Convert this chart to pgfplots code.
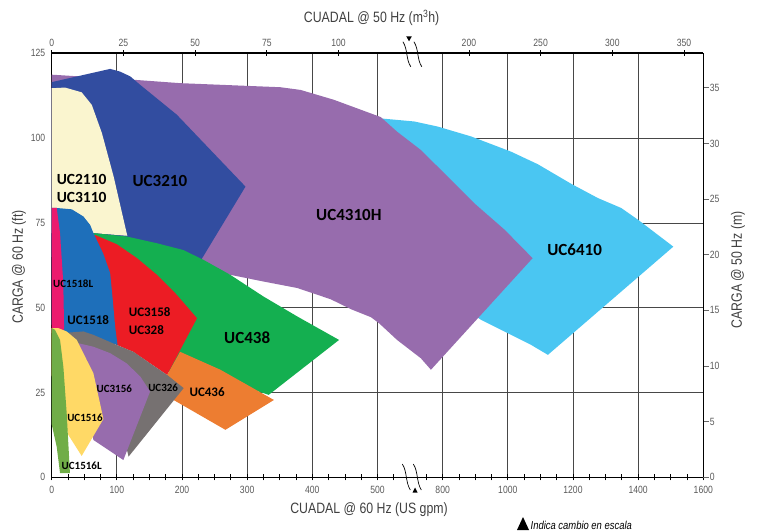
\documentclass[border=0pt]{standalone}
\usepackage{fontspec}
\setmainfont{Liberation Sans}
\newfontfamily\narrow[FakeStretch=0.82]{Liberation Sans}
\newfontfamily\lbl{Carlito}
\usepackage{pgfplots}
\pgfplotsset{compat=1.18}

\definecolor{cUCsixfour}{HTML}{4AC6F2}   % UC6410
\definecolor{cUCfourthree}{HTML}{976CAD} % UC4310H, UC3156
\definecolor{cUCthreetwo}{HTML}{324DA0}  % UC3210
\definecolor{cUCtwoone}{HTML}{FAF5CF}    % UC2110/UC3110
\definecolor{cUCfourthreeeight}{HTML}{14AF50} % UC438
\definecolor{cUCfoursix}{HTML}{ED7D31}   % UC436
\definecolor{cUCred}{HTML}{EC1C24}       % UC3158/UC328
\definecolor{cUCblue}{HTML}{1E6FBA}      % UC1518
\definecolor{cUCmag}{HTML}{EB1A6E}       % UC1518L
\definecolor{cUCgray}{HTML}{767171}      % UC326
\definecolor{cUCyel}{HTML}{FFD966}       % UC1516
\definecolor{cUClgreen}{HTML}{70AD47}    % UC1516L

% two linear gpm scales: 0-550 at 100 gpm/unit, 700-1600 at 200 gpm/unit
\pgfplotsset{
  gpmbreak/.style={
    x coord trafo/.code={\pgfmathparse{ifthenelse(##1<=600,##1/100,2+##1/200)}},
  },
  frame/.style={
    scale only axis, width=651.6pt, height=424pt,
    at={(0pt,0pt)}, anchor=south west,
    xmin=0, xmax=1600, gpmbreak,
    axis line style={-},
    /pgf/number format/assume math mode=true,
    ticklabel style={font=\narrow\fontsize{10.5}{12}\selectfont, text=black!65},
  },
}
\tikzset{lab/.style={font=\lbl\bfseries\fontsize{#1}{#1}\selectfont, inner sep=0pt}}

\begin{document}
\begin{tikzpicture}
\begin{axis}[frame,
  ymin=0, ymax=125,
  axis x line*=bottom, axis y line*=left,
  xtick={0,100,200,300,400,500,800,1000,1200,1400,1600},
  xticklabels={0,100,200,300,400,500,800,1000,1200,1400,1600},
  minor xtick={25,50,75,125,150,175,225,250,275,325,350,375,425,450,475,525,750,850,900,950,1050,1100,1150,1250,1300,1350,1450,1500,1550},
  ytick={0,25,50,75,100,125},
  xmajorgrids, ymajorgrids,
  grid style={black!72, line width=0.8pt},
  tick align=center,
  major tick length=6pt, minor tick length=6pt,
  xtick style={black, line width=0.8pt},
  ytick style={draw=none},
  xticklabel style={yshift=-2pt},
  x axis line style={line width=1.6pt},
  y axis line style={line width=1pt},
  xlabel={CUADAL @ 60 Hz (US gpm)},
  ylabel={CARGA @ 60 Hz (ft)},
  xlabel style={at={(rel axis cs:0.487,0)}, anchor=center, yshift=-32.7pt,
    font=\narrow\fontsize{15}{18}\selectfont, text=black!75},
  ylabel style={at={(rel axis cs:0,0.496)}, anchor=center, yshift=32.7pt,
    font=\narrow\fontsize{15}{18}\selectfont, text=black!75},
]
% UC6410
\addplot[fill=cUCsixfour, draw=none] coordinates {
(505,105.8) (713,104.9) (785,103.4) (887,100.5) (1010,96) (1092,92.3) (1195,86.5)
(1277,82.3) (1348,79.4) (1400,75.9) (1508,68) (1123,36.1) (1072,39) (979,43.5)
(918,46.4) (787,55) (533,80)} -- cycle;
% UC4310H
\addplot[fill=cUCfourthree, draw=none] coordinates {
(0,118.7) (125.6,117.2) (197,116.2) (351,115) (382,114.2) (433,111.3) (505,106.2)
(530,101.9) (733,96.5) (795,90.6) (897,80.8) (990,73) (1076,64.6) (764,31.7)
(733,35.1) (530,40.5) (502.5,45.4) (490,47.2) (460,49.5) (428,52.5) (377,55.8)
(325.5,57.7) (274,59.7) (230,62) (100,65) (0,65)} -- cycle;
% UC3210
\addplot[fill=cUCthreetwo, draw=none] coordinates {
(0,116.5) (89.7,120.4) (105,119.6) (120.5,118.2) (135.8,115.7) (192,106.9)
(297.4,85.7) (230,64.3) (150,67) (60,70) (0,70)} -- cycle;
% UC2110 / UC3110
\addplot[fill=cUCtwoone, draw=none] coordinates {
(0,114.7) (20.5,114.9) (46,113.5) (61.5,109.8) (77,101.5) (95,88.7) (116,71.2)
(64,72) (0,72)} -- cycle;
% UC438
\addplot[fill=cUCfourthreeeight, draw=none] coordinates {
(64,72) (115,71) (161.5,69) (202,67) (233,64.1) (274,59.7) (325,53.3) (377,47.4)
(441,40.5) (333,24.3) (259,29) (200,33) (178,31) (120,40) (60,50)} -- cycle;
% UC436
\addplot[fill=cUCfoursix, draw=none] coordinates {
(177,30.2) (197,37) (259,31.7) (341,22.8) (266.6,14) (187,22.8)} -- cycle;
% UC3158 / UC328
\addplot[fill=cUCred, draw=none] coordinates {
(66,71.5) (100,68.7) (131,64.6) (161.5,59.7) (192,53.8) (223,46.9) (177,30.2)
(151,33.6) (125,37) (100,39) (80,50) (64,70)} -- cycle;
% UC1518
\addplot[fill=cUCblue, draw=none] coordinates {
(0,79.4) (7.7,79.4) (30.8,79) (48.6,76.9) (59,74.4) (64,72) (79,66) (89.7,60.2)
(93.7,52.3) (97.4,44.4) (101,39) (64,41) (20,42) (0,45)} -- cycle;
% UC1518L
\addplot[fill=cUCmag, draw=none] coordinates {
(0,79.4) (7.7,79.4) (12.8,72) (17.8,57.2) (19,44) (17,42.5) (0,42.5)} -- cycle;
% UC326
\addplot[fill=cUCgray, draw=none] coordinates {
(15,42.5) (48.6,43) (64,42) (100,39) (125.5,37) (151,33.6) (177,30.2) (202.5,26.3)
(118,6.1) (100,20) (60,35) (20,41)} -- cycle;
% UC3156
\addplot[fill=cUCfourthree, draw=none] coordinates {
(30,40) (64,38.5) (89.7,36.6) (115,33.6) (136,29.7) (151,25.3) (110,5.1) (64,11)
(55,20) (45,35)} -- cycle;
% UC1516
\addplot[fill=cUCyel, draw=none] coordinates {
(0,44) (10,44) (23,43) (38.5,40.5) (54,34.5) (64,30.7) (79.4,17.2) (46,6.3)
(25.5,12.5) (15,20) (0,30)} -- cycle;
% UC1516L
\addplot[fill=cUClgreen, draw=none] coordinates {
(0,44) (5,43.5) (12.8,40.5) (17.9,32.6) (23,18.9) (28,1.2) (12.8,1.2) (7.7,9)
(0,15.6)} -- cycle;

\node[lab=15.5] at (axis cs:46,87.9) {UC2110};
\node[lab=15.5] at (axis cs:46,82.5) {UC3110};
\node[lab=17] at (axis cs:166,87.5) {UC3210};
\node[lab=17] at (axis cs:456,77.4) {UC4310H};
\node[lab=17] at (axis cs:1205,67) {UC6410};
\node[lab=17] at (axis cs:300,41.3) {UC438};
\node[lab=13] at (axis cs:238.5,25) {UC436};
\node[lab=13, anchor=west] at (axis cs:118,48.6) {UC3158};
\node[lab=13, anchor=west] at (axis cs:118,43.4) {UC328};
\node[lab=13] at (axis cs:56,46.4) {UC1518};
\node[lab=11] at (axis cs:33,57) {UC1518L};
\node[lab=11] at (axis cs:96,26) {UC3156};
\node[lab=11] at (axis cs:171,26.3) {UC326};
\node[lab=11] at (axis cs:51,17.4) {UC1516};
\node[lab=11] at (axis cs:46,3.4) {UC1516L};

\coordinate (bb) at (axis cs:553,0);
\coordinate (bt) at (axis cs:553,125);
\end{axis}

\begin{axis}[frame,
  ymin=0, ymax=38.1,
  axis x line*=top, axis y line*=right,
  xtick={0,110.07,220.14,330.22,440.29,880.57,1100.72,1320.86,1541.00},
  xticklabels={0,25,50,75,100,200,250,300,350},
  ytick={0,5,10,15,20,25,30,35},
  tick align=center, major tick length=6pt,
  xtick style={black, line width=0.8pt},
  ytick style={black!60, line width=0.6pt, xshift=2.5pt},
  x axis line style={line width=1.6pt},
  y axis line style={line width=1pt},
  xlabel={CUADAL @ 50 Hz (m\textsuperscript{3}h)},
  ylabel={CARGA @ 50 Hz (m)},
  xlabel style={at={(rel axis cs:0.491,1)}, anchor=center, yshift=35.3pt,
    font=\narrow\fontsize{15}{18}\selectfont, text=black!75},
  ylabel style={at={(rel axis cs:1,0.489)}, anchor=center, yshift=-34.7pt,
    font=\narrow\fontsize{15}{18}\selectfont, text=black!75},
]
\end{axis}

% scale-break marks
\foreach \dx in {-9.7pt,1.3pt} {
  \draw[line width=0.7pt] ([xshift=\dx, yshift=13.3pt]bb)
    .. controls +(5pt,-8pt) and +(-5pt,8pt) .. ([xshift=\dx+8pt, yshift=-12.7pt]bb);
  \draw[line width=0.7pt] ([xshift=\dx+0.6pt, yshift=11.6pt]bt)
    .. controls +(5pt,-8pt) and +(-5pt,8pt) .. ([xshift=\dx+8.4pt, yshift=-13.4pt]bt);
}
\fill ([xshift=-5.8pt, yshift=17pt]bt) -- ([xshift=-0.2pt, yshift=17pt]bt) -- ([xshift=-3pt, yshift=12pt]bt) -- cycle;
\fill ([xshift=0.5pt, yshift=-15.2pt]bb) -- ([xshift=5.5pt, yshift=-15.2pt]bb) -- ([xshift=3pt, yshift=-10.2pt]bb) -- cycle;

% note
\fill (465.3pt,-52.7pt) -- (477.3pt,-52.7pt) -- (471.3pt,-39.7pt) -- cycle;
\node[anchor=base west, inner sep=0pt, font=\narrow\itshape\fontsize{11.5}{13}\selectfont]
  at (478.8pt,-52.5pt) {Indica cambio en escala};

\pgfresetboundingbox
\path[use as bounding box] (-51.7pt,-53.7pt) rectangle (705.3pt,477.3pt);
\end{tikzpicture}
\end{document}
